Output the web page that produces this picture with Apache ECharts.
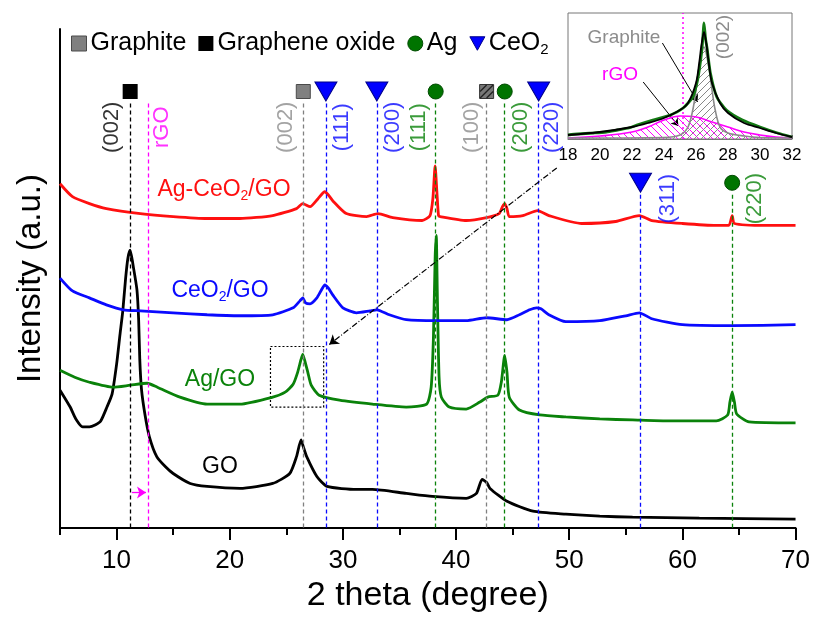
<!DOCTYPE html>
<html>
<head>
<meta charset="utf-8">
<script src="https://cdn.jsdelivr.net/npm/echarts@6/dist/echarts.min.js"></script>
<style>
html, body { margin: 0; padding: 0; background: #fff; }
#chart { width: 813px; height: 618px; }
</style>
</head>
<body>
<div id="chart"></div>
<script>
// XRD patterns: [2θ (degree), intensity (a.u., stacked with vertical offsets)]
const goCurve = [
  [5.0,139],[5.9,122],[6.4,110],[7.0,102],[7.6,102],[8.1,104],[8.6,108],[9.15,122],[9.6,135],
  [10.0,165],[10.3,195],[10.55,219],[10.8,252],[11.0,272],[11.2,280],[11.5,262],[11.8,240],
  [11.95,210],[12.05,170],[12.2,140],[12.5,115],[12.9,92],[13.55,72],[14.3,62],[15.0,55],
  [16.5,45],[18.0,42],[20.9,40],[23.8,45],[25.3,55],[25.9,72],[26.3,89],[26.5,82],[26.8,72],
  [27.7,52],[28.6,42],[31.2,39],[32.6,39],[35.6,35],[37.9,32],[40.9,30],[41.8,35],[42.3,49],
  [42.7,46],[43.0,40],[44.5,27],[46.8,17],[49.7,14],[52.7,12],[55.6,11],[61.5,10],[70.0,9]
];
const agGoCurve = [
  [5.0,159],[6.3,152],[7.6,147],[9.7,142],[11.2,144],[12.7,146],[13.6,142],[15.6,132],[18.0,125],
  [20.9,125],[23.8,132],[24.9,137],[25.6,145],[26.0,157],[26.3,170],[26.45,175],[26.6,170],
  [26.9,157],[27.2,144],[27.9,134],[29.7,129],[32.6,125],[35.6,122],[37.4,125],[37.8,142],
  [38.0,192],[38.15,272],[38.25,295],[38.35,232],[38.5,152],[38.7,132],[39.4,122],[40.9,120],
  [42.1,127],[42.8,132],[43.7,134],[44.0,147],[44.3,174],[44.5,157],[44.7,132],[45.6,119],
  [47.4,114],[49.7,112],[52.7,110],[55.6,109],[58.6,108],[63.0,108],[64.0,114],[64.2,127],
  [64.4,137],[64.6,127],[64.8,115],[65.9,107],[70.0,106]
];
const ceo2GoCurve = [
  [5.0,252],[6.1,239],[7.6,232],[9.1,225],[10.6,220],[12.1,219],[15.0,217],[18.0,215],[20.9,214],
  [23.8,215],[25.6,222],[26.2,229],[26.45,232],[26.7,227],[27.1,226],[27.7,232],[28.1,240],
  [28.4,245],[28.7,242],[29.1,235],[30.0,222],[31.2,217],[32.4,219],[33.0,220],[34.1,215],
  [35.6,210],[38.3,209],[40.9,209],[42.7,212],[44.5,210],[45.6,215],[46.5,220],[47.1,222],
  [47.5,221],[48.2,215],[49.7,208],[52.7,209],[55.0,214],[56.2,217],[57.3,211],[60.0,205],
  [64.4,204],[70.0,205]
];
const agCeo2GoCurve = [
  [5.0,347],[6.1,334],[7.6,327],[9.1,322],[12.1,317],[15.0,314],[18.0,312],[20.9,312],[23.8,315],
  [25.9,322],[26.45,327],[27.1,324],[27.8,332],[28.4,339],[28.7,336],[29.1,330],[30.3,317],
  [32.1,314],[33.1,317],[34.4,313],[37.0,310],[37.7,315],[37.95,332],[38.15,365],[38.3,340],
  [38.45,315],[38.6,314],[40.9,310],[42.7,313],[43.8,317],[44.1,324],[44.3,327],[44.5,322],
  [44.7,314],[45.9,315],[47.2,320],[48.2,315],[51.1,307],[54.1,309],[56.2,315],[57.3,310],
  [60.0,307],[63.0,305],[64.1,305],[64.4,315],[64.6,307],[67.4,305],[70.0,305]
];

// Reference reflections (2θ)
const grapheneOxideRefs = [11.2];
const rgoRefs = [12.8];
const graphiteRefs = [26.5];
const graphiteHatchedRefs = [42.7];
const agRefs = [38.2, 44.3, 64.4];
const ceo2Refs = [28.5, 33.0, 47.3, 56.3];

// Miller-index annotations
const peakLabelText  = ['(002)', 'rGO', '(002)', '(111)', '(200)', '(111)', '(100)', '(200)', '(220)', '(311)', '(220)'];
const peakLabelTheta = [11.2, 12.8, 26.5, 28.5, 33.0, 38.2, 42.7, 44.3, 47.3, 56.3, 64.4];

// Inset: (002) region of Ag/GO with peak deconvolution
const insetMeasured = [
  [18.0,4],[18.6,5],[19.6,6],[20.4,7],[21.1,9],[21.8,11],[22.3,14],[23.3,19],[24.4,24],[25.2,31],
  [25.8,42],[26.1,59],[26.3,80],[26.4,95],[26.5,116],[26.6,100],[26.7,90],[26.9,66],[27.3,42],
  [27.9,29],[28.9,19],[30.0,12],[31.1,6],[32.0,2]
];
const insetFit = [
  [18,4],[20,7],[22,12],[23,16],[24,21],[25,29],[25.5,36],[26,56],[26.2,76],[26.35,95],[26.5,107],
  [26.65,95],[26.8,76],[27,56],[27.5,36],[28,26],[29,16],[30,11],[31,6],[32,2]
];
const insetGraphite = [
  [18,1],[24,1.5],[25,4],[25.5,12],[25.8,29],[26,49],[26.2,72],[26.5,92],[26.8,72],[27,49],
  [27.2,29],[27.5,12],[28,6],[29,3],[30,1.5],[32,1]
];
const insetRgo = [
  [18,1],[20,3],[22,7],[23,12],[24,19],[25,23],[26,22],[27,17],[28,12],[29,7],[30,4],[31,2],[32,1]
];
const insetRgoCenter = [25.2];

const xTickLabels = [10, 20, 30, 40, 50, 60, 70];

// ---------- styling helpers ----------
const FONT = '"Liberation Sans", Arial, sans-serif';
const RED = '#ff1010', BLUE = '#0a0aff', GREEN = '#0a820a', MAGENTA = '#ff00ff', GRAY = '#8c8c8c';
const PX_PER_DEG = 736 / 65;

function hatch(color, forward) {
  const c = document.createElement('canvas');
  c.width = c.height = 7;
  const g = c.getContext('2d');
  g.strokeStyle = color;
  g.lineWidth = 1;
  g.beginPath();
  if (forward) {
    g.moveTo(0, 7); g.lineTo(7, 0);
    g.moveTo(-2, 2); g.lineTo(2, -2);
    g.moveTo(5, 9); g.lineTo(9, 5);
  } else {
    g.moveTo(0, 0); g.lineTo(7, 7);
    g.moveTo(-2, 5); g.lineTo(2, 9);
    g.moveTo(5, -2); g.lineTo(9, 2);
  }
  g.stroke();
  return c;
}

const TOP_ROW = 440, LOW_ROW = 348;
const rowOf = x => (x > 50 ? LOW_ROW : TOP_ROW);

// dashed guide lines from each marker down to the baseline
function guide(x, color) {
  const top = rowOf(x) - 12;
  return [{ coord: [x, top], lineStyle: { color } }, { coord: [x, 0] }];
}
const guides = [
  ...grapheneOxideRefs.map(x => guide(x, '#000')),
  ...rgoRefs.map(x => guide(x, MAGENTA)),
  ...graphiteRefs.map(x => guide(x, '#808080')),
  ...graphiteHatchedRefs.map(x => guide(x, '#808080')),
  ...agRefs.map(x => guide(x, GREEN)),
  ...ceo2Refs.map(x => guide(x, BLUE))
];

// label colour and horizontal shift (pixels) beside its guide line
const labelStyle = [
  { color: '#000', dx: -18 }, { color: MAGENTA, dx: 14 }, { color: GRAY, dx: -17 },
  { color: BLUE, dx: 16 }, { color: BLUE, dx: 16 }, { color: GREEN, dx: -17 },
  { color: GRAY, dx: -15 }, { color: GREEN, dx: 16 }, { color: BLUE, dx: 13 },
  { color: BLUE, dx: 27 }, { color: GREEN, dx: 23 }
];
const peakLabels = peakLabelText.map((t, i) => ({
  value: [peakLabelTheta[i] + labelStyle[i].dx / PX_PER_DEG,
          rowOf(peakLabelTheta[i]) === TOP_ROW ? 404 : 332],
  label: {
    show: true, formatter: t, rotate: 90, position: 'inside',
    color: labelStyle[i].color, fontSize: 22, fontFamily: FONT
  }
}));

const curveStyle = (name, data, color) => ({
  name, type: 'line', data, xAxisIndex: 0, yAxisIndex: 0,
  showSymbol: false, symbol: 'none', smooth: 0.2, z: 3,
  lineStyle: { color, width: 2.8 }
});

const chart = echarts.init(document.getElementById('chart'), null, { renderer: 'canvas' });

chart.setOption({
  animation: false,
  backgroundColor: '#fff',
  textStyle: { fontFamily: FONT },
  legend: {
    left: 66, top: 26, itemWidth: 15, itemHeight: 15, itemGap: 12,
    selectedMode: false,
    data: [
      { name: 'Graphite', icon: 'rect', itemStyle: { color: '#808080', borderColor: '#4a4a4a', borderWidth: 1, opacity: 1 } },
      { name: 'Graphene oxide', icon: 'rect', itemStyle: { color: '#000', opacity: 1 } },
      { name: 'Ag', icon: 'circle', itemStyle: { color: '#007400', borderColor: '#004a00', borderWidth: 1, opacity: 1 } },
      { name: 'CeO2', icon: 'path://M0,0L20,0L10,18Z', itemStyle: { color: '#0000ff', borderColor: '#00008a', borderWidth: 1, opacity: 1 } }
    ],
    formatter: n => (n === 'CeO2' ? 'CeO{s|2}' : n),
    textStyle: {
      fontSize: 25, color: '#000', fontFamily: FONT, padding: [0, 0, 0, -1],
      rich: { s: { fontSize: 15, verticalAlign: 'bottom', padding: [12, 0, 0, 0], fontFamily: FONT } }
    }
  },
  grid: [
    { left: 60, top: 29, width: 736, height: 503, containLabel: false },
    { left: 568, top: 13, width: 224, height: 126, show: true, borderColor: '#777', borderWidth: 1, backgroundColor: '#fff', z: 5 }
  ],
  xAxis: [
    {
      gridIndex: 0, type: 'value', min: 5, max: 70, interval: 5,
      name: '2 theta (degree)', nameLocation: 'middle', nameGap: 47,
      nameTextStyle: { fontSize: 34, color: '#000', fontFamily: FONT },
      axisLine: { onZero: false, lineStyle: { color: '#000', width: 2 } },
      axisTick: { show: true, length: 7, inside: false, lineStyle: { color: '#000', width: 2 } },
      axisLabel: {
        fontSize: 26, color: '#000', margin: 20, fontFamily: FONT,
        formatter: v => (xTickLabels.indexOf(v) >= 0 ? String(v) : '')
      },
      splitLine: { show: false }
    },
    {
      gridIndex: 0, type: 'value', min: 5, max: 70, position: 'bottom', offset: 0,
      axisLine: { show: false },
      axisTick: { show: true, length: 12, customValues: xTickLabels, lineStyle: { color: '#000', width: 2 } },
      axisLabel: { show: false },
      splitLine: { show: false }
    },
    {
      gridIndex: 1, type: 'value', min: 18, max: 32, interval: 2,
      axisLine: { onZero: false, lineStyle: { color: '#777', width: 1 } },
      axisTick: { inside: true, length: 4, lineStyle: { color: '#555' } },
      minorTick: { show: true, splitNumber: 2, length: 2, lineStyle: { color: '#555' } },
      axisLabel: { fontSize: 17, color: '#000', margin: 8, fontFamily: FONT },
      splitLine: { show: false }
    }
  ],
  yAxis: [
    {
      gridIndex: 0, type: 'value', min: 0, max: 503,
      name: 'Intensity (a.u.)', nameLocation: 'middle', nameGap: 13, nameRotate: 90,
      nameTextStyle: { fontSize: 33, color: '#000', fontFamily: FONT },
      axisLine: { show: true, lineStyle: { color: '#000', width: 2 } },
      axisTick: { show: false }, axisLabel: { show: false }, splitLine: { show: false }
    },
    {
      gridIndex: 1, type: 'value', min: 0, max: 126,
      axisLine: { show: false }, axisTick: { show: false }, axisLabel: { show: false }, splitLine: { show: false }
    }
  ],
  graphic: [
    { type: 'text', x: 224, y: 190, z: 10, style: { text: 'Ag-CeO{s|2}/GO', fill: RED, font: '23px ' + FONT, align: 'center', verticalAlign: 'middle', rich: { s: { fontSize: 14, fill: RED, verticalAlign: 'bottom', padding: [12, 0, 0, 0] } } } },
    { type: 'text', x: 220, y: 291, z: 10, style: { text: 'CeO{s|2}/GO', fill: BLUE, font: '23px ' + FONT, align: 'center', verticalAlign: 'middle', rich: { s: { fontSize: 14, fill: BLUE, verticalAlign: 'bottom', padding: [12, 0, 0, 0] } } } },
    { type: 'text', x: 220, y: 380, z: 10, style: { text: 'Ag/GO', fill: GREEN, font: '23px ' + FONT, align: 'center', verticalAlign: 'middle' } },
    { type: 'text', x: 220, y: 467, z: 10, style: { text: 'GO', fill: '#000', font: '23px ' + FONT, align: 'center', verticalAlign: 'middle' } },
    { type: 'text', x: 624, y: 38, z: 20, style: { text: 'Graphite', fill: GRAY, font: '19px ' + FONT, align: 'center', verticalAlign: 'middle' } },
    { type: 'text', x: 620, y: 75, z: 20, style: { text: 'rGO', fill: MAGENTA, font: '19px ' + FONT, align: 'center', verticalAlign: 'middle' } },
    { type: 'text', x: 724, y: 37, z: 20, rotation: Math.PI / 2, style: { text: '(002)', fill: GRAY, font: '19px ' + FONT, align: 'center', verticalAlign: 'middle' } }
  ],
  series: [
    // guide lines, zoom box and pointer
    {
      type: 'line', data: [], xAxisIndex: 0, yAxisIndex: 0, z: 1, silent: true,
      markLine: {
        silent: true, symbol: 'none', label: { show: false },
        lineStyle: { type: [4, 3], width: 1.3 },
        data: guides
      }
    },
    {
      type: 'line', data: [], xAxisIndex: 0, yAxisIndex: 0, z: 4, silent: true,
      markLine: {
        silent: true, symbol: ['none', 'arrow'], symbolSize: 9, label: { show: false },
        data: [
          [{ coord: [48.9, 363], lineStyle: { color: '#000', width: 1.2, type: [6, 2, 1, 2] } }, { coord: [28.8, 185] }],
          [{ coord: [11.35, 36], lineStyle: { color: MAGENTA, width: 1.3, type: 'solid' }, symbolSize: 7 }, { coord: [12.6, 36] }]
        ]
      },
      markArea: {
        silent: true,
        itemStyle: { color: 'rgba(0,0,0,0)', borderColor: '#000', borderWidth: 1.2, borderType: [2, 2] },
        data: [[{ coord: [23.6, 183] }, { coord: [28.3, 122] }]]
      }
    },
    curveStyle('GO', goCurve, '#000'),
    curveStyle('Ag/GO', agGoCurve, GREEN),
    curveStyle('CeO2/GO', ceo2GoCurve, BLUE),
    curveStyle('Ag-CeO2/GO', agCeo2GoCurve, RED),
    // reflection markers
    {
      name: 'Graphite', type: 'scatter', xAxisIndex: 0, yAxisIndex: 0, z: 6,
      symbol: 'rect', symbolSize: 14,
      itemStyle: { color: '#808080', borderColor: '#4a4a4a', borderWidth: 1, opacity: 1 },
      data: graphiteRefs.map(x => [x, rowOf(x)])
    },
    {
      name: 'Graphite (hatched)', type: 'scatter', xAxisIndex: 0, yAxisIndex: 0, z: 6,
      symbol: 'rect', symbolSize: 14,
      itemStyle: { color: '#777', borderColor: '#333', borderWidth: 1, opacity: 1 },
      data: graphiteHatchedRefs.map(x => [x, rowOf(x)])
    },
    {
      type: 'scatter', xAxisIndex: 0, yAxisIndex: 0, z: 7, silent: true,
      symbol: 'path://M0,10L10,0M0,5L5,0M5,10L10,5', symbolSize: 13,
      itemStyle: { color: 'rgba(0,0,0,0)', borderColor: '#222', borderWidth: 1.3, opacity: 1 },
      data: graphiteHatchedRefs.map(x => [x, rowOf(x)])
    },
    {
      name: 'Graphene oxide', type: 'scatter', xAxisIndex: 0, yAxisIndex: 0, z: 6,
      symbol: 'rect', symbolSize: 15, itemStyle: { color: '#000', opacity: 1 },
      data: grapheneOxideRefs.map(x => [x, rowOf(x)])
    },
    {
      name: 'Ag', type: 'scatter', xAxisIndex: 0, yAxisIndex: 0, z: 6,
      symbol: 'circle', symbolSize: 15,
      itemStyle: { color: '#007400', borderColor: '#004a00', borderWidth: 1, opacity: 1 },
      data: agRefs.map(x => [x, rowOf(x)])
    },
    {
      name: 'CeO2', type: 'scatter', xAxisIndex: 0, yAxisIndex: 0, z: 6,
      symbol: 'triangle', symbolSize: [22, 19], symbolRotate: 180,
      itemStyle: { color: '#0000ff', borderColor: '#00008a', borderWidth: 1, opacity: 1 },
      data: ceo2Refs.map(x => [x, rowOf(x)])
    },
    {
      type: 'scatter', xAxisIndex: 0, yAxisIndex: 0, z: 8, silent: true,
      symbolSize: 0, data: peakLabels
    },
    // inset
    {
      type: 'line', xAxisIndex: 2, yAxisIndex: 1, data: insetRgo, z: 6,
      showSymbol: false, symbol: 'none', smooth: 0.4,
      lineStyle: { color: MAGENTA, width: 1.6 },
      areaStyle: { color: { image: hatch(MAGENTA, false), repeat: 'repeat' }, opacity: 1 }
    },
    {
      type: 'line', xAxisIndex: 2, yAxisIndex: 1, data: insetGraphite, z: 6,
      showSymbol: false, symbol: 'none', smooth: 0.3,
      lineStyle: { color: '#8a8a8a', width: 1.6 },
      areaStyle: { color: { image: hatch('#888', true), repeat: 'repeat' }, opacity: 1 },
      markLine: {
        silent: true, symbol: 'none', label: { show: false },
        lineStyle: { color: MAGENTA, type: [2, 3], width: 1.5 },
        data: insetRgoCenter.map(x => ({ xAxis: x }))
      }
    },
    {
      type: 'line', xAxisIndex: 2, yAxisIndex: 1, data: insetMeasured, z: 7,
      showSymbol: false, symbol: 'none', smooth: 0.2,
      lineStyle: { color: '#137a13', width: 2.8 }
    },
    {
      type: 'line', xAxisIndex: 2, yAxisIndex: 1, data: insetFit, z: 8,
      showSymbol: false, symbol: 'none', smooth: 0.3,
      lineStyle: { color: '#000', width: 1.8 },
      markLine: {
        silent: true, symbol: ['none', 'arrow'], symbolSize: 7, label: { show: false },
        lineStyle: { color: '#000', width: 1, type: 'solid' },
        data: [
          [{ coord: [23.9, 96] }, { coord: [26.1, 37] }],
          [{ coord: [22.7, 57] }, { coord: [24.9, 13] }]
        ]
      }
    }
  ]
});
</script>
</body>
</html>
